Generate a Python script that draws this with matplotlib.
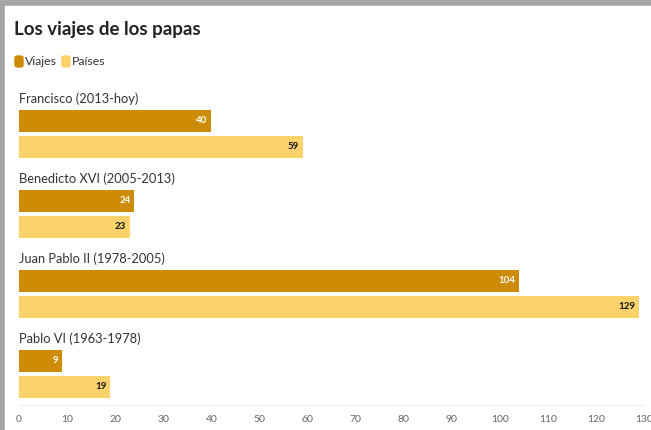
import matplotlib.pyplot as plt
from matplotlib.patches import Rectangle, FancyBboxPatch

papas = ["Francisco (2013-hoy)", "Benedicto XVI (2005-2013)",
         "Juan Pablo II (1978-2005)", "Pablo VI (1963-1978)"]
viajes = [40, 24, 104, 9]
paises = [59, 23, 129, 19]
ticks = list(range(0, 140, 10))

col_viajes = '#CE8C05'
col_paises = '#FDD26A'

plt.rcParams['font.family'] = ['Lato', 'DejaVu Sans']

W, H = 651, 430
fig = plt.figure(figsize=(W / 100, H / 100), dpi=100)

# screenshot frame (grey strip top and left)
fig.patches.append(Rectangle((0, 0), 1, 1, transform=fig.transFigure,
                             color='#a5a5a5', zorder=-3))
fig.patches.append(Rectangle((5 / W, 0), 1, 1 - 6 / H, transform=fig.transFigure,
                             color='white', zorder=-2))

fig.text(14 / W, 1 - 30 / H, "Los viajes de los papas", fontsize=13.5,
         fontweight='bold', color='#222222', va='center')

# legend
for x0, c, lab in [(15, col_viajes, "Viajes"), (62, col_paises, "Países")]:
    fig.patches.append(FancyBboxPatch((x0 / W, 1 - 67 / H), 8 / W, 11 / H,
                                      boxstyle='round,pad=0,rounding_size=0.004',
                                      transform=fig.transFigure, color=c))
    fig.text((x0 + 10) / W, 1 - 61.5 / H, lab, fontsize=8.8, color='#333333',
             va='center')

top, bot = 90, 405
ax = fig.add_axes([19 / W, 1 - bot / H, 625 / W, (bot - top) / H])
ax.set_xlim(0, 130)
ax.set_ylim(bot, top)

bh = 22
for i, (name, v, p) in enumerate(zip(papas, viajes, paises)):
    base = 80 * i
    ax.text(0, 99 + base, name, fontsize=9.3, color='#333333', va='center')
    ax.barh(121 + base, v, height=bh, color=col_viajes)
    ax.barh(147 + base, p, height=bh, color=col_paises)
    ax.annotate(str(v), (v, 121 + base), xytext=(-4, 0), textcoords='offset pixels',
                ha='right', va='center', fontsize=7, fontweight='bold', color='white')
    ax.annotate(str(p), (p, 147 + base), xytext=(-4, 0), textcoords='offset pixels',
                ha='right', va='center', fontsize=7, fontweight='bold', color='#111111')

ax.set_xticks(ticks)
ax.set_xticklabels([str(t) for t in ticks], fontsize=7.5, color='#666666')
ax.tick_params(axis='x', length=0, pad=7)
ax.set_yticks([])
for s in ['top', 'right', 'left']:
    ax.spines[s].set_visible(False)
ax.spines['bottom'].set_color('#eeeeee')
ax.spines['bottom'].set_linewidth(0.8)

fig.savefig('out.png', dpi=100)
